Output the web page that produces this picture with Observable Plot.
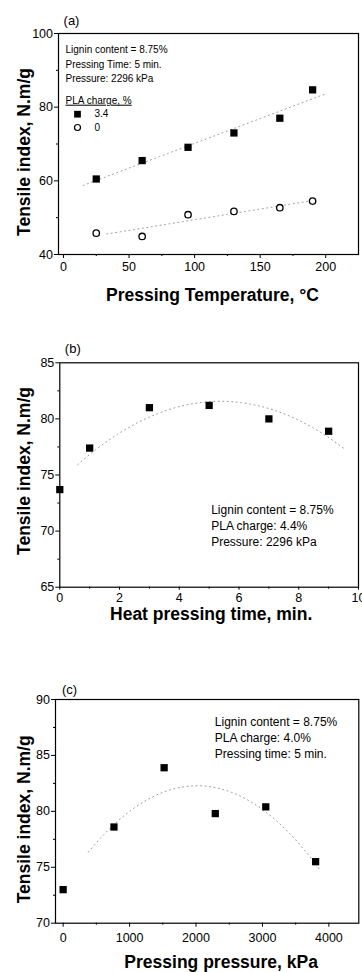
<!DOCTYPE html>
<html><head><meta charset="utf-8">
<script src="https://cdn.jsdelivr.net/npm/d3@7"></script>
<script src="https://cdn.jsdelivr.net/npm/@observablehq/plot@0.6"></script>
<style>
body{margin:0;background:#fff;font-family:"Liberation Sans",Arial,sans-serif}
#root{width:362px;height:972px;overflow:hidden}
svg{display:block}
</style></head><body><div id="root"></div><script>
// ---------- Panel (a): pressing temperature ----------
const tempC = [25, 60, 95, 130, 165, 190];
const tensileA_PLA34 = [60.5, 65.5, 69.1, 73.0, 77.0, 84.7];
const tensileA_PLA0 = [45.8, 44.9, 50.8, 51.7, 52.7, 54.5];
const fitRangeA34 = [15, 199];
const fitRangeA0 = [33, 191];
const notesA = ["Lignin content = 8.75%", "Pressing Time: 5 min.", "Pressure: 2296 kPa"];
const legendTitleA = "PLA charge, %";
const legendLabelsA = ["3.4", "0"];
const xTicksA = [0, 50, 100, 150, 200];
const xMinorA = [25, 75, 125, 175];
const yTicksA = [40, 60, 80, 100];
const yMinorA = [50, 70, 90];

// ---------- Panel (b): heat pressing time ----------
const timeMin = [0, 1, 3, 5, 7, 9];
const tensileB = [73.7, 77.4, 81.0, 81.2, 80.0, 78.9];
const fitRangeB = [0.6, 9.5];
const notesB = ["Lignin content = 8.75%", "PLA charge: 4.4%", "Pressure: 2296 kPa"];
const xTicksB = [0, 2, 4, 6, 8, 10];
const xMinorB = [1, 3, 5, 7, 9];
const yTicksB = [65, 70, 75, 80, 85];
const yMinorB = [67.5, 72.5, 77.5, 82.5];

// ---------- Panel (c): pressing pressure ----------
const pressureKPa = [0, 765, 1520, 2290, 3050, 3800];
const tensileC = [73.0, 78.6, 83.9, 79.8, 80.4, 75.5];
const fitRangeC = [380, 3880];
const notesC = ["Lignin content = 8.75%", "PLA charge: 4.0%", "Pressing time: 5 min."];
const xTicksC = [0, 1000, 2000, 3000, 4000];
const xMinorC = [500, 1500, 2500, 3500];
const yTicksC = [70, 75, 80, 85, 90];
const yMinorC = [72.5, 77.5, 82.5, 87.5];

const yTitle = "Tensile index, N.m/g";

// least-squares polynomial fit
function polyfit(xs, ys, deg) {
  const n = deg + 1;
  const A = Array.from({length: n}, () => new Array(n + 1).fill(0));
  for (let k = 0; k < xs.length; k++) {
    for (let i = 0; i < n; i++) {
      for (let j = 0; j < n; j++) A[i][j] += Math.pow(xs[k], i + j);
      A[i][n] += ys[k] * Math.pow(xs[k], i);
    }
  }
  for (let i = 0; i < n; i++) {
    let p = i;
    for (let r = i + 1; r < n; r++) if (Math.abs(A[r][i]) > Math.abs(A[p][i])) p = r;
    [A[i], A[p]] = [A[p], A[i]];
    for (let r = 0; r < n; r++) {
      if (r === i) continue;
      const f = A[r][i] / A[i][i];
      for (let c = i; c <= n; c++) A[r][c] -= f * A[i][c];
    }
  }
  const coef = A.map((row, i) => row[n] / row[i]);
  return x => coef.reduce((s, c, i) => s + c * Math.pow(x, i), 0);
}
function curve(xs, ys, deg, range, steps = 60) {
  const f = polyfit(xs, ys, deg);
  return d3.range(steps + 1).map(i => {
    const x = range[0] + (range[1] - range[0]) * i / steps;
    return {x, y: f(x)};
  });
}

const baseStyle = {fontFamily: "'Liberation Sans', Arial, sans-serif", fontSize: "12.5px", color: "black", background: "white", overflow: "visible"};
const trendStyle = {x: "x", y: "y", stroke: "#9a9a9a", strokeWidth: 1, strokeDasharray: "1,3.5"};
const plain = d3.format("d");

function axes(xT, xM, yT, yM, xTick, xPad) {
  return [
    Plot.axisX(xT, {tickSize: xTick, tickPadding: xPad, fontSize: 12.5, label: null, tickFormat: plain}),
    Plot.axisX(xM, {tickSize: 2, tickFormat: () => "", label: null}),
    Plot.axisY(yT, {tickSize: 4, tickPadding: 1.5, fontSize: 12.5, label: null, tickFormat: plain}),
    Plot.axisY(yM, {tickSize: 2, tickFormat: () => "", label: null}),
    Plot.frame({stroke: "black", strokeWidth: 1.2})
  ];
}
function titleMarks(xTitle, xdx, xdy, ydx, ydy, tag, tdx, tdy) {
  return [
    Plot.text([xTitle], {frameAnchor: "bottom", dx: xdx, dy: xdy, textAnchor: "middle", lineAnchor: "middle", fontSize: 17.5, fontWeight: "bold"}),
    Plot.text([yTitle], {frameAnchor: "left", rotate: -90, dx: ydx, dy: ydy, textAnchor: "middle", lineAnchor: "middle", fontSize: 17.5, fontWeight: "bold"}),
    Plot.text([tag], {frameAnchor: "top-left", dx: tdx, dy: tdy, textAnchor: "middle", lineAnchor: "middle", fontSize: 13})
  ];
}

const root = document.getElementById("root");

// Panel (a)
const dataA34 = tempC.map((x, i) => ({x, y: tensileA_PLA34[i]}));
const dataA0 = tempC.map((x, i) => ({x, y: tensileA_PLA0[i]}));
const plotA = Plot.plot({
  width: 362, height: 310,
  marginLeft: 58, marginRight: 4, marginTop: 33, marginBottom: 56,
  x: {domain: [-3.8, 225]}, y: {domain: [40, 100]},
  style: baseStyle,
  marks: [
    ...axes(xTicksA, xMinorA, yTicksA, yMinorA, 4, 4),
    Plot.line(curve(tempC, tensileA_PLA34, 1, fitRangeA34), trendStyle),
    Plot.line(curve(tempC, tensileA_PLA0, 1, fitRangeA0), trendStyle),
    Plot.dot(dataA34, {x: "x", y: "y", symbol: "square", r: 4.1, fill: "black"}),
    Plot.dot(dataA0, {x: "x", y: "y", symbol: "circle", r: 3.2, stroke: "black", strokeWidth: 1.3, fill: "white"}),
    Plot.text([notesA.join("\n")], {frameAnchor: "top-left", dx: 7, dy: 9.5, textAnchor: "start", lineAnchor: "top", lineHeight: 1.45, fontSize: 10}),
    Plot.text([legendTitleA], {frameAnchor: "top-left", dx: 7, dy: 67, textAnchor: "start", lineAnchor: "middle", fontSize: 10}),
    Plot.dot([0], {frameAnchor: "top-left", dx: 19, dy: 80.7, symbol: "square", r: 3.8, fill: "black"}),
    Plot.dot([0], {frameAnchor: "top-left", dx: 19, dy: 94, symbol: "circle", r: 3, stroke: "black", strokeWidth: 1.2, fill: "white"}),
    Plot.text([legendLabelsA[0]], {frameAnchor: "top-left", dx: 36, dy: 80.7, textAnchor: "start", lineAnchor: "middle", fontSize: 10}),
    Plot.text([legendLabelsA[1]], {frameAnchor: "top-left", dx: 36, dy: 94, textAnchor: "start", lineAnchor: "middle", fontSize: 10}),
    ...titleMarks("Pressing Temperature, °C", 4, 41, -34, 8, "(a)", 13, -13)
  ]
});
d3.select(plotA).selectAll("text").filter(function() { return this.textContent === legendTitleA; }).style("text-decoration", "underline");
root.appendChild(plotA);

// Panel (b)
const dataB = timeMin.map((x, i) => ({x, y: tensileB[i]}));
const plotB = Plot.plot({
  width: 362, height: 330,
  marginLeft: 59.3, marginRight: 4, marginTop: 52.3, marginBottom: 53.3,
  x: {domain: [0, 10]}, y: {domain: [65, 85]},
  style: baseStyle,
  marks: [
    ...axes(xTicksB, xMinorB, yTicksB, yMinorB, 3, 2.5),
    Plot.line(curve(timeMin, tensileB, 2, fitRangeB), trendStyle),
    Plot.dot(dataB, {x: "x", y: "y", symbol: "square", r: 4.1, fill: "black"}),
    Plot.text([notesB.join("\n")], {frameAnchor: "top-left", dx: 151.4, dy: 140, textAnchor: "start", lineAnchor: "top", lineHeight: 1.32, fontSize: 12}),
    ...titleMarks("Heat pressing time, min.", 2, 27, -35, -4, "(b)", 13, -14)
  ]
});
root.appendChild(plotB);

// Panel (c)
const dataC = pressureKPa.map((x, i) => ({x, y: tensileC[i]}));
const plotC = Plot.plot({
  width: 362, height: 332,
  marginLeft: 55, marginRight: 3.7, marginTop: 59, marginBottom: 49.3,
  x: {domain: [-115, 4450]}, y: {domain: [70, 90]},
  style: baseStyle,
  marks: [
    ...axes(xTicksC, xMinorC, yTicksC, yMinorC, 4, 6),
    Plot.line(curve(pressureKPa, tensileC, 2, fitRangeC), trendStyle),
    Plot.dot(dataC, {x: "x", y: "y", symbol: "square", r: 4.1, fill: "black"}),
    Plot.text([notesC.join("\n")], {frameAnchor: "top-left", dx: 159.3, dy: 15.7, textAnchor: "start", lineAnchor: "top", lineHeight: 1.32, fontSize: 12}),
    ...titleMarks("Pressing pressure, kPa", 14, 39, -31, 8, "(c)", 14, -10)
  ]
});
root.appendChild(plotC);
</script></body></html>
